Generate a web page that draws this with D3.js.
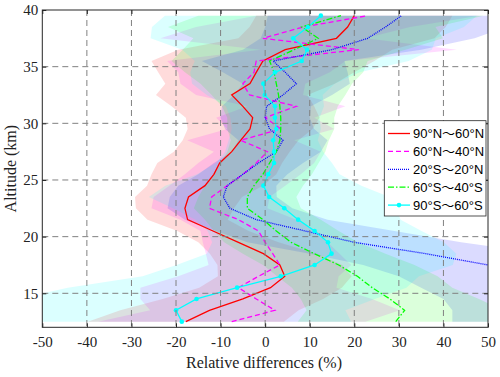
<!DOCTYPE html>
<html>
<head>
<meta charset="utf-8">
<script src="https://cdn.jsdelivr.net/npm/d3@7"></script>
<style>
  body { margin: 0; background: #fff; }
  svg { display: block; }
</style>
</head>
<body>
<div id="chart"></div>
<script>
// altitude levels (km)
const altitude = [12.5, 13.5, 14.5, 15.5, 16.5, 17.5, 18.5, 19.5, 20.5, 21.5, 22.5, 23.5, 24.5, 25.5,
  26.5, 27.5, 28.5, 29.5, 30.5, 31.5, 32.5, 33.5, 34.5, 35.5, 36.5, 37.5, 38.5, 39.5];

// mean relative differences (%) per latitude band
const red = [-17.8, -12.5, -5, 1.2, 4.4, 3.3, -0.4, -6, -11.7, -17.4, -18, -17.2, -13.5, -11.5,
  -10.2, -7.5, -5.5, -3.4, -2.8, -5, -7.5, -3.4, -2, -0.5, 4.5, 16, 18.5, 20];
const magenta = [-7.5, 2.2, -2, -6, -1.5, 3.3, 1.7, 0, -1.5, -6, -12.5, -12, -8.5, -5,
  -2, 0.5, -5.5, 3.5, 0, 7, -3.5, -5, -2.5, -2, 21, -0.5, 8.5, 23];
const blue = [72, 72, 70, 65, 58, 50, 36, 20, 9, -2, -7.9, -9.4, -8.5, -5,
  -1.5, 2.5, 4, 1, 0, 0.3, 4, 7, 4.5, 1.8, 15, 23, 27, 30.6];
const green = [29.3, 31.3, 28, 24, 20.7, 16.5, 11, 5.8, 2.5, -0.5, -4, -4, -2.5, -0.5,
  1, 2.5, 3.3, 3.5, 3.5, 3.3, 3, 2.5, 2, 1, 6.5, 11.9, 8.2, 17];
const cyan = [-18.7, -20, -15.4, -6.3, 3.5, 11.1, 14.9, 14.1, 11.1, 7.4, 4.3, 0.9, -0.4, 0.7,
  2, 2, 1.8, 2.5, 2.2, 2.2, -0.1, -0.4, 2.2, 8.2, 9.4, 6.3, 9.6, 12.5];

// standard deviations (%) used for the shaded bands
const redSd = [22, 20, 18, 16, 15, 14, 12, 9, 8, 9, 11, 12, 13, 14,
  14, 13, 13, 14, 15, 16, 17, 19, 22, 25, 24, 22, 22, 22];
const magentaSd = [30, 28, 26, 22, 18, 16, 15, 14, 13, 13, 13, 13, 13, 13,
  13, 12, 12, 12, 11, 11, 12, 14, 17, 20, 22, 23, 24, 25];
const blueSd = [30, 30, 30, 30, 28, 28, 26, 24, 20, 16, 14, 12, 11, 10,
  10, 10, 10, 10, 10, 10, 11, 12, 14, 16, 20, 24, 27, 30];
const greenSd = [22, 22, 20, 18, 18, 17, 16, 15, 14, 13, 12, 11, 11, 11,
  11, 11, 11, 12, 12, 13, 15, 17, 20, 22, 25, 28, 30, 32];
const cyanSd = [38, 38, 40, 38, 31, 31, 28, 26, 24, 23, 25, 27, 22, 16,
  13, 11, 10, 10, 10, 11, 13, 16, 19, 24, 28, 32, 35, 35];

const seriesNames = ["90°N～60°N", "60°N～40°N", "20°S～20°N", "60°S～40°S", "90°S～60°S"];
const xTicks = [-50, -40, -30, -20, -10, 0, 10, 20, 30, 40, 50];
const yTicks = [15, 20, 25, 30, 35, 40];

const series = [
  { name: seriesNames[0], mean: red, sd: redSd, color: "#ff0000", dash: null },
  { name: seriesNames[1], mean: magenta, sd: magentaSd, color: "#ff00ff", dash: "5,3" },
  { name: seriesNames[2], mean: blue, sd: blueSd, color: "#0000ff", dash: "1,1" },
  { name: seriesNames[3], mean: green, sd: greenSd, color: "#00ff00", dash: "6,2,1.5,2" },
  { name: seriesNames[4], mean: cyan, sd: cyanSd, color: "#00ffff", dash: null, marker: true }
];

const width = 500, height = 377;
const plotL = 42.3, plotR = 488, plotT = 10, plotB = 327.3;
const fontSerif = "Liberation Serif, Times New Roman, serif";
const fontSans = "Liberation Sans, Noto Sans CJK SC, Arial, sans-serif";

const svg = d3.select("#chart").append("svg")
  .attr("width", width)
  .attr("height", height);

const x = d3.scaleLinear().domain([-50, 50]).range([plotL, plotR]);
const y = d3.scaleLinear().domain([12, 40]).range([plotB, plotT]);

svg.append("clipPath").attr("id", "plot-clip")
  .append("rect")
  .attr("x", plotL).attr("y", plotT)
  .attr("width", plotR - plotL).attr("height", plotB - plotT);

const plot = svg.append("g").attr("clip-path", "url(#plot-clip)");

// shaded bands
const area = d3.area()
  .y(d => y(d.alt))
  .x0(d => x(d.m - d.s))
  .x1(d => x(d.m + d.s));

series.forEach(s => {
  const pts = altitude.map((a, i) => ({ alt: a, m: s.mean[i], s: s.sd[i] }));
  plot.append("path")
    .datum(pts)
    .attr("d", area)
    .attr("fill", s.color)
    .attr("fill-opacity", 0.14)
    .attr("stroke", "none");
});

// grid
const grid = svg.append("g");
grid.selectAll("line.gx")
  .data(xTicks.slice(1, -1))
  .join("line")
  .attr("x1", d => x(d)).attr("x2", d => x(d))
  .attr("y1", plotT).attr("y2", plotB)
  .attr("stroke", "#808080").attr("stroke-width", 1).attr("stroke-dasharray", "6,4");
grid.selectAll("line.gy")
  .data(yTicks.slice(0, -1))
  .join("line")
  .attr("y1", d => y(d)).attr("y2", d => y(d))
  .attr("x1", plotL).attr("x2", plotR)
  .attr("stroke", "#808080").attr("stroke-width", 1).attr("stroke-dasharray", "6,4");

// mean profiles
const line = d3.line()
  .y(d => y(d.alt))
  .x(d => x(d.m));

series.forEach(s => {
  const pts = altitude.map((a, i) => ({ alt: a, m: s.mean[i] }));
  plot.append("path")
    .datum(pts)
    .attr("d", line)
    .attr("fill", "none")
    .attr("stroke", s.color)
    .attr("stroke-width", 1.3)
    .attr("stroke-dasharray", s.dash);
  if (s.marker) {
    plot.selectAll(null)
      .data(pts)
      .join("circle")
      .attr("cx", d => x(d.m))
      .attr("cy", d => y(d.alt))
      .attr("r", 2.3)
      .attr("fill", s.color);
  }
});

// axes
const fmt = d => String(d);
svg.append("g")
  .attr("transform", `translate(0,${plotB})`)
  .call(d3.axisBottom(x).tickValues(xTicks).tickFormat(fmt).tickSize(-4).tickPadding(9).tickSizeOuter(0));
svg.append("g")
  .attr("transform", `translate(${plotL},0)`)
  .call(d3.axisLeft(y).tickValues(yTicks).tickFormat(fmt).tickSize(-4).tickPadding(4).tickSizeOuter(0));
svg.append("g")
  .attr("transform", `translate(0,${plotT})`)
  .call(d3.axisTop(x).tickValues(xTicks).tickSize(-4).tickFormat("").tickSizeOuter(0));
svg.append("g")
  .attr("transform", `translate(${plotR},0)`)
  .call(d3.axisRight(y).tickValues(yTicks).tickSize(-4).tickFormat("").tickSizeOuter(0));

svg.selectAll(".domain").remove();
svg.selectAll(".tick line").attr("stroke", "#262626");
svg.selectAll(".tick text")
  .attr("fill", "#222")
  .style("font-family", fontSerif)
  .style("font-size", "15px");

svg.append("rect")
  .attr("x", plotL).attr("y", plotT)
  .attr("width", plotR - plotL).attr("height", plotB - plotT)
  .attr("fill", "none")
  .attr("stroke", "#262626")
  .attr("stroke-width", 1);

svg.append("text")
  .attr("x", 264)
  .attr("y", 368)
  .attr("text-anchor", "middle")
  .attr("fill", "#222")
  .style("font-family", fontSerif)
  .style("font-size", "16px")
  .text("Relative differences (%)");

svg.append("text")
  .attr("transform", `translate(16,${(plotT + plotB) / 2}) rotate(-90)`)
  .attr("text-anchor", "middle")
  .attr("fill", "#222")
  .style("font-family", fontSerif)
  .style("font-size", "16px")
  .text("Altitude (km)");

// legend
const legend = svg.append("g");
legend.append("rect")
  .attr("x", 384.3).attr("y", 120.7)
  .attr("width", 101.7).attr("height", 95.3)
  .attr("fill", "#fff")
  .attr("stroke", "#262626")
  .attr("stroke-width", 0.8);

series.forEach((s, i) => {
  const ly = 133.5 + i * 17.9;
  legend.append("line")
    .attr("x1", 388).attr("x2", 410)
    .attr("y1", ly).attr("y2", ly)
    .attr("stroke", s.color)
    .attr("stroke-width", 1.3)
    .attr("stroke-dasharray", s.dash);
  if (s.marker) {
    legend.append("circle")
      .attr("cx", 399).attr("cy", ly).attr("r", 2.3)
      .attr("fill", s.color);
  }
  legend.append("text")
    .attr("x", 413)
    .attr("y", ly + 4.5)
    .attr("fill", "#000")
    .style("font-family", fontSans)
    .style("font-size", "13px")
    .text(s.name);
});
</script>
</body>
</html>
